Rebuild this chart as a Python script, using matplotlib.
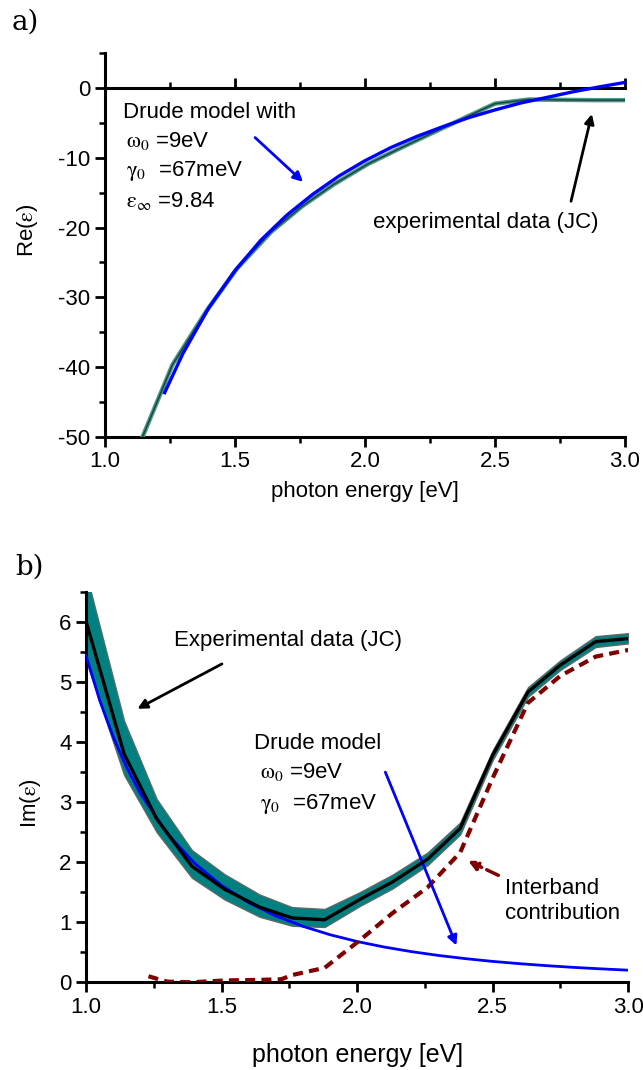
import matplotlib
matplotlib.use('Agg')
import matplotlib.pyplot as plt
from matplotlib.ticker import MultipleLocator
import numpy as np

plt.rcParams['font.family'] = ['Liberation Sans', 'DejaVu Sans']
plt.rcParams['font.size'] = 16
plt.rcParams['mathtext.fontset'] = 'stix'
plt.rcParams['axes.unicode_minus'] = False

# ---------------- panel a: Re(eps) ----------------
drude_re_x = [1.23, 1.3, 1.4, 1.5, 1.6, 1.7, 1.8, 1.9, 2.0, 2.1, 2.2, 2.3,
              2.4, 2.5, 2.6, 2.7, 2.8, 2.9, 3.0]
drude_re_y = [-43.7, -38.1, -31.5, -26.2, -21.8, -18.2, -15.2, -12.6, -10.4,
              -8.5, -6.9, -5.5, -4.2, -3.1, -2.1, -1.3, -0.5, 0.2, 0.85]

jc_re_x = [1.10, 1.14, 1.26, 1.39, 1.51, 1.64, 1.76, 1.88, 2.01, 2.13, 2.26,
           2.38, 2.50, 2.63, 2.75, 2.88, 3.00]
jc_re_y = [-56.0, -50.5, -39.7, -32.0, -25.8, -20.6, -16.9, -13.8, -10.9,
           -8.7, -6.4, -4.3, -2.2, -1.6, -1.65, -1.7, -1.7]

# ---------------- panel b: Im(eps) ----------------
jc_im_x = [1.00, 1.14, 1.26, 1.39, 1.51, 1.64, 1.76, 1.88, 2.01, 2.13, 2.26,
           2.38, 2.50, 2.63, 2.75, 2.88, 3.00]
jc_im_y = [6.0, 3.80, 2.72, 1.93, 1.55, 1.25, 1.07, 1.04, 1.38, 1.67, 2.05,
           2.56, 3.78, 4.83, 5.28, 5.67, 5.72]
jc_im_hi = [6.80, 4.35, 3.05, 2.20, 1.80, 1.46, 1.25, 1.22, 1.50, 1.79, 2.16,
            2.66, 3.86, 4.91, 5.36, 5.76, 5.81]
jc_im_lo = [5.35, 3.45, 2.50, 1.74, 1.38, 1.09, 0.94, 0.92, 1.27, 1.56, 1.95,
            2.46, 3.70, 4.75, 5.20, 5.58, 5.64]

drude_im_x = [1.0, 1.05, 1.1, 1.15, 1.2, 1.3, 1.4, 1.5, 1.6, 1.7, 1.8, 1.9,
              2.0, 2.1, 2.2, 2.3, 2.4, 2.5, 2.6, 2.7, 2.8, 2.9, 3.0]
drude_im_y = [5.43, 4.69, 4.08, 3.57, 3.14, 2.47, 1.98, 1.61, 1.325, 1.105,
              0.931, 0.791, 0.678, 0.586, 0.510, 0.446, 0.393, 0.347, 0.309,
              0.276, 0.247, 0.223, 0.201]

inter_x = [1.23, 1.26, 1.30, 1.39, 1.51, 1.64, 1.72, 1.76, 1.88, 2.01, 2.13,
           2.26, 2.38, 2.50, 2.63, 2.75, 2.88, 3.00]
inter_y = [0.10, 0.06, 0.01, 0.0, 0.03, 0.04, 0.05, 0.12, 0.24, 0.70, 1.15,
           1.58, 2.16, 3.40, 4.65, 5.10, 5.42, 5.53]

TEAL = '#008080'
BLUE = '#0000ff'
DARKRED = '#7f0000'

fig = plt.figure(figsize=(6.43, 10.7), dpi=100)
ax1 = fig.add_axes([0.163, 0.592, 0.809, 0.358])
ax2 = fig.add_axes([0.134, 0.082, 0.843, 0.365])


def style_axes(ax):
    for s in ['left', 'bottom', 'top']:
        ax.spines[s].set_linewidth(2.2)
    ax.spines['right'].set_visible(False)
    ax.xaxis.set_major_locator(MultipleLocator(0.5))
    ax.xaxis.set_minor_locator(MultipleLocator(0.25))
    ax.tick_params(which='major', direction='out', length=7, width=2, labelsize=16)
    ax.tick_params(which='minor', direction='out', length=4, width=1.8)
    ax.xaxis.set_major_formatter(plt.FormatStrFormatter('%.1f'))


# ---- panel a ----
style_axes(ax1)
ax1.spines['top'].set_position(('data', 0))
ax1.tick_params(which='both', top=True, labeltop=False)
ax1.set_xlim(1.0, 3.0)
ax1.set_ylim(-50, 5)
ax1.yaxis.set_major_locator(MultipleLocator(10))
ax1.yaxis.set_minor_locator(MultipleLocator(5))

ax1.plot(jc_re_x, jc_re_y, color='#4c9a8e', lw=3.2, zorder=3, solid_capstyle='butt')
ax1.plot(jc_re_x, jc_re_y, color='#1d4a40', lw=1.2, zorder=3)
ax1.plot(drude_re_x, drude_re_y, color=BLUE, lw=2.4, zorder=4)

ax1.text(1.07, -3.4, 'Drude model with', va='center', fontsize=16)
ax1.text(1.08, -7.5, r'$\mathrm{\omega}_0$ =9eV', va='center', fontsize=16)
ax1.text(1.08, -11.8, r'$\mathrm{\gamma}_0$  =67meV', va='center', fontsize=16)
ax1.text(1.08, -16.2, r'$\mathrm{\varepsilon}_\infty$ =9.84', va='center', fontsize=16)
ax1.text(2.03, -19.3, 'experimental data (JC)', va='center', fontsize=16)

ax1.annotate('', xy=(1.77, -13.7), xytext=(1.57, -6.8),
             arrowprops=dict(arrowstyle='-|>', color=BLUE, lw=2, mutation_scale=14))
ax1.annotate('', xy=(2.875, -3.3), xytext=(2.79, -16.6),
             arrowprops=dict(arrowstyle='-|>', color='black', lw=2, mutation_scale=14))

ax1.set_xlabel('photon energy [eV]')
ax1.set_ylabel(r'Re($\mathrm{\varepsilon}$)')
ax1.xaxis.set_label_coords(0.5, -0.117)
ax1.yaxis.set_label_coords(-0.125, 0.54)

# ---- panel b ----
style_axes(ax2)
ax2.spines['top'].set_visible(False)
ax2.set_xlim(1.0, 3.0)
ax2.set_ylim(0, 6.5)
ax2.yaxis.set_major_locator(MultipleLocator(1))
ax2.yaxis.set_minor_locator(MultipleLocator(0.5))

ax2.fill_between(jc_im_x, jc_im_lo, jc_im_hi, facecolor=TEAL, edgecolor='#5a6a66',
                 lw=1, zorder=2)
ax2.plot(drude_im_x, drude_im_y, color=BLUE, lw=2, zorder=3)
ax2.plot(jc_im_x, jc_im_y, color='black', lw=2.4, zorder=4)
ax2.plot(inter_x, inter_y, color=DARKRED, lw=3, ls=(0, (2.4, 1.5)), zorder=3)

ax2.text(1.325, 5.68, 'Experimental data (JC)', va='center', fontsize=16)
ax2.annotate('', xy=(1.18, 4.53), xytext=(1.51, 5.32),
             arrowprops=dict(arrowstyle='-|>', color='black', lw=2, mutation_scale=14))
ax2.text(1.62, 3.97, 'Drude model', va='center', fontsize=16)
ax2.text(1.64, 3.50, r'$\mathrm{\omega}_0$ =9eV', va='center', fontsize=16)
ax2.text(1.64, 2.97, r'$\mathrm{\gamma}_0$  =67meV', va='center', fontsize=16)
ax2.annotate('', xy=(2.37, 0.57), xytext=(2.10, 3.54),
             arrowprops=dict(arrowstyle='-|>', color=BLUE, lw=2, mutation_scale=14))
ax2.text(2.545, 1.36, 'Interband\ncontribution', va='center', fontsize=16,
         linespacing=1.25)
ax2.annotate('', xy=(2.40, 2.04), xytext=(2.53, 1.76),
             arrowprops=dict(arrowstyle='-|>', color=DARKRED, lw=2.5, ls='--',
                             mutation_scale=14))

ax2.set_xlabel('photon energy [eV]', fontsize=18)
ax2.set_ylabel(r'Im($\mathrm{\varepsilon}$)')
ax2.xaxis.set_label_coords(0.5, -0.155)
ax2.yaxis.set_label_coords(-0.079, 0.46)

fig.text(0.018, 1 - 22 / 1070, 'a)', family='DejaVu Serif', fontsize=20, va='center')
fig.text(0.024, 1 - 567 / 1070, 'b)', family='DejaVu Serif', fontsize=20, va='center')

fig.savefig('out.png', dpi=100)
